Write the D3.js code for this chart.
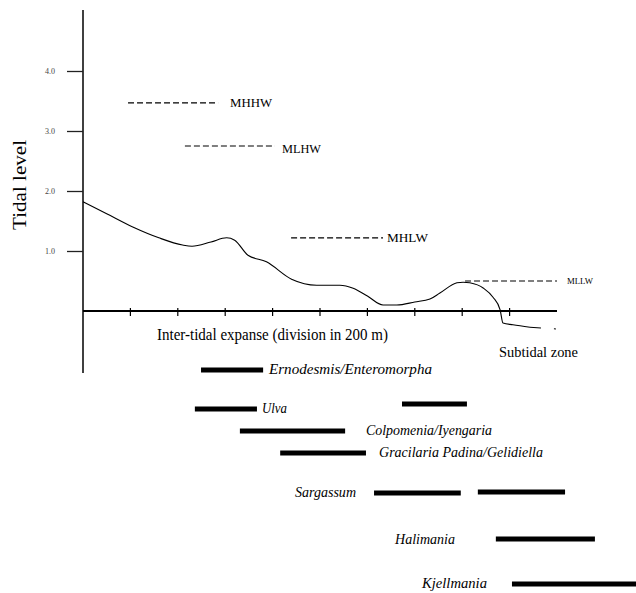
<!DOCTYPE html>
<html><head><meta charset="utf-8">
<script src="https://cdn.jsdelivr.net/npm/d3@7"></script>
<style>body{margin:0;background:#fff}svg{display:block}</style>
</head><body>
<svg id="c" width="636" height="593"></svg>
<script>
// ---- data ----
const yTicks = [1, 2, 3, 4];
const yTickLabels = ["1.0", "2.0", "3.0", "4.0"];
const xTicks = [1, 2, 3, 4, 5, 6, 7, 8, 9];
const profileX = [0, 0.5, 1.05, 1.6, 2.1, 2.3, 2.7, 3.03, 3.2, 3.48, 3.87, 4.4, 4.93, 5.42, 5.7, 6.0, 6.33, 6.62, 7.0, 7.32, 7.53, 7.89, 8.02, 8.16, 8.45, 8.65, 8.8, 8.86, 9.07, 9.43];
const profileY = [1.82, 1.62, 1.40, 1.22, 1.10, 1.08, 1.15, 1.22, 1.18, 0.93, 0.82, 0.53, 0.43, 0.43, 0.38, 0.25, 0.10, 0.10, 0.15, 0.20, 0.30, 0.47, 0.48, 0.47, 0.38, 0.23, 0.02, -0.20, -0.23, -0.27];
const tailX = [9.43, 10.0];
const tailY = [-0.27, -0.30];
const levelNames = ["MHHW", "MLHW", "MHLW", "MLLW"];
const levelStart = [0.95, 2.15, 4.39, 8.06];
const levelEnd = [2.85, 4.05, 6.33, 10.0];
const levelValue = [3.47, 2.75, 1.22, 0.5];
const species = ["Ernodesmis/Enteromorpha", "Ulva", "Colpomenia/Iyengaria", "Gracilaria Padina/Gelidiella", "Sargassum", "Halimania", "Kjellmania"];
const rangeSpecies = [0, 1, 1, 2, 3, 4, 4, 5, 6];
const rangeStart = [2.49, 2.36, 6.73, 3.31, 4.16, 6.14, 8.33, 8.71, 9.05];
const rangeEnd = [3.80, 3.67, 8.10, 5.53, 5.97, 7.97, 10.17, 10.80, 11.67];

// ---- layout ----
const svg = d3.select("#c");
const x = d3.scaleLinear().domain([0, 10]).range([83, 557]);
const y = d3.scaleLinear().domain([0, 4]).range([311, 71]);
const serif = "'Liberation Serif','Times New Roman',serif";
const rowY = [370, 409, 431, 453, 493, 540, 584];
const rangeRowOffset = [0, 0, -5, 0, 0, 0, -1, -1, 0];
// label placement: [x start, width]
const labelPos = [[269, 163], [262, 25], [366, 126], [379, 164], [295, 61], [395, 60], [422, 65]];
const levelLabelPos = [[230, 42, 13], [282, 39, 13], [387, 41, 13], [567, 26, 9]];

// y axis
svg.append("line").attr("x1", 83).attr("x2", 83).attr("y1", 10).attr("y2", 373)
  .attr("stroke", "#000").attr("stroke-width", 1.5);
const yAxis = d3.axisLeft(y).tickValues(yTicks).tickSize(16).tickFormat((d, i) => yTickLabels[i]);
const ya = svg.append("g").attr("transform", "translate(83,0)").call(yAxis);
ya.select(".domain").remove();
ya.selectAll(".tick line").attr("stroke", "#222").attr("stroke-width", 1.3);
ya.selectAll(".tick text").attr("x", -28).attr("font-family", serif).attr("font-size", 8).attr("fill", "#444");

svg.append("text").attr("transform", "translate(26,185) rotate(-90)")
  .attr("text-anchor", "middle").attr("font-family", serif).attr("font-size", 19)
  .attr("textLength", 90).attr("lengthAdjust", "spacingAndGlyphs").text("Tidal level");

// x axis
svg.append("line").attr("x1", x(0)).attr("x2", x(10)).attr("y1", y(0)).attr("y2", y(0))
  .attr("stroke", "#000").attr("stroke-width", 2);
svg.append("g").selectAll("line").data(xTicks).join("line")
  .attr("x1", d => x(d)).attr("x2", d => x(d)).attr("y1", y(0) - 3).attr("y2", y(0) + 5)
  .attr("stroke", "#000").attr("stroke-width", 1.2);

svg.append("text").attr("x", 157).attr("y", 340).attr("font-family", serif).attr("font-size", 16)
  .attr("textLength", 231).attr("lengthAdjust", "spacingAndGlyphs")
  .text("Inter-tidal expanse (division in 200 m)");
svg.append("text").attr("x", 499).attr("y", 357).attr("font-family", serif).attr("font-size", 15)
  .attr("textLength", 79).attr("lengthAdjust", "spacingAndGlyphs")
  .text("Subtidal zone");

// profile
const pts = profileX.map((d, i) => [d, profileY[i]]);
svg.append("path").datum(pts)
  .attr("d", d3.line().x(d => x(d[0])).y(d => y(d[1])).curve(d3.curveMonotoneX))
  .attr("fill", "none").attr("stroke", "#000").attr("stroke-width", 1.1);
svg.append("path").datum(tailX.map((d, i) => [d, tailY[i]]))
  .attr("d", d3.line().x(d => x(d[0])).y(d => y(d[1])))
  .attr("fill", "none").attr("stroke", "#000").attr("stroke-width", 1.1).attr("stroke-dasharray", "11,13,2,10");

// tidal levels
levelNames.forEach((n, i) => {
  svg.append("line").attr("x1", x(levelStart[i])).attr("x2", x(levelEnd[i]))
    .attr("y1", y(levelValue[i])).attr("y2", y(levelValue[i]))
    .attr("stroke", "#000").attr("stroke-width", 1.2).attr("stroke-dasharray", "6,3");
  const lp = levelLabelPos[i];
  svg.append("text").attr("x", lp[0]).attr("y", y(levelValue[i]) + (i === 3 ? 3 : 4) + (i === 1 ? 3 : 0))
    .attr("font-family", serif).attr("font-size", lp[2])
    .attr("textLength", lp[1]).attr("lengthAdjust", "spacingAndGlyphs").text(n);
});

// species ranges
rangeSpecies.forEach((s, i) => {
  const yy = rowY[s] + rangeRowOffset[i];
  svg.append("line").attr("x1", x(rangeStart[i])).attr("x2", x(rangeEnd[i]))
    .attr("y1", yy).attr("y2", yy).attr("stroke", "#000").attr("stroke-width", 5);
});
species.forEach((s, i) => {
  svg.append("text").attr("x", labelPos[i][0]).attr("y", rowY[i] + 4)
    .attr("font-family", serif).attr("font-style", "italic")
    .attr("font-size", 14).attr("textLength", labelPos[i][1]).attr("lengthAdjust", "spacingAndGlyphs")
    .text(s);
});
</script>
</body></html>
